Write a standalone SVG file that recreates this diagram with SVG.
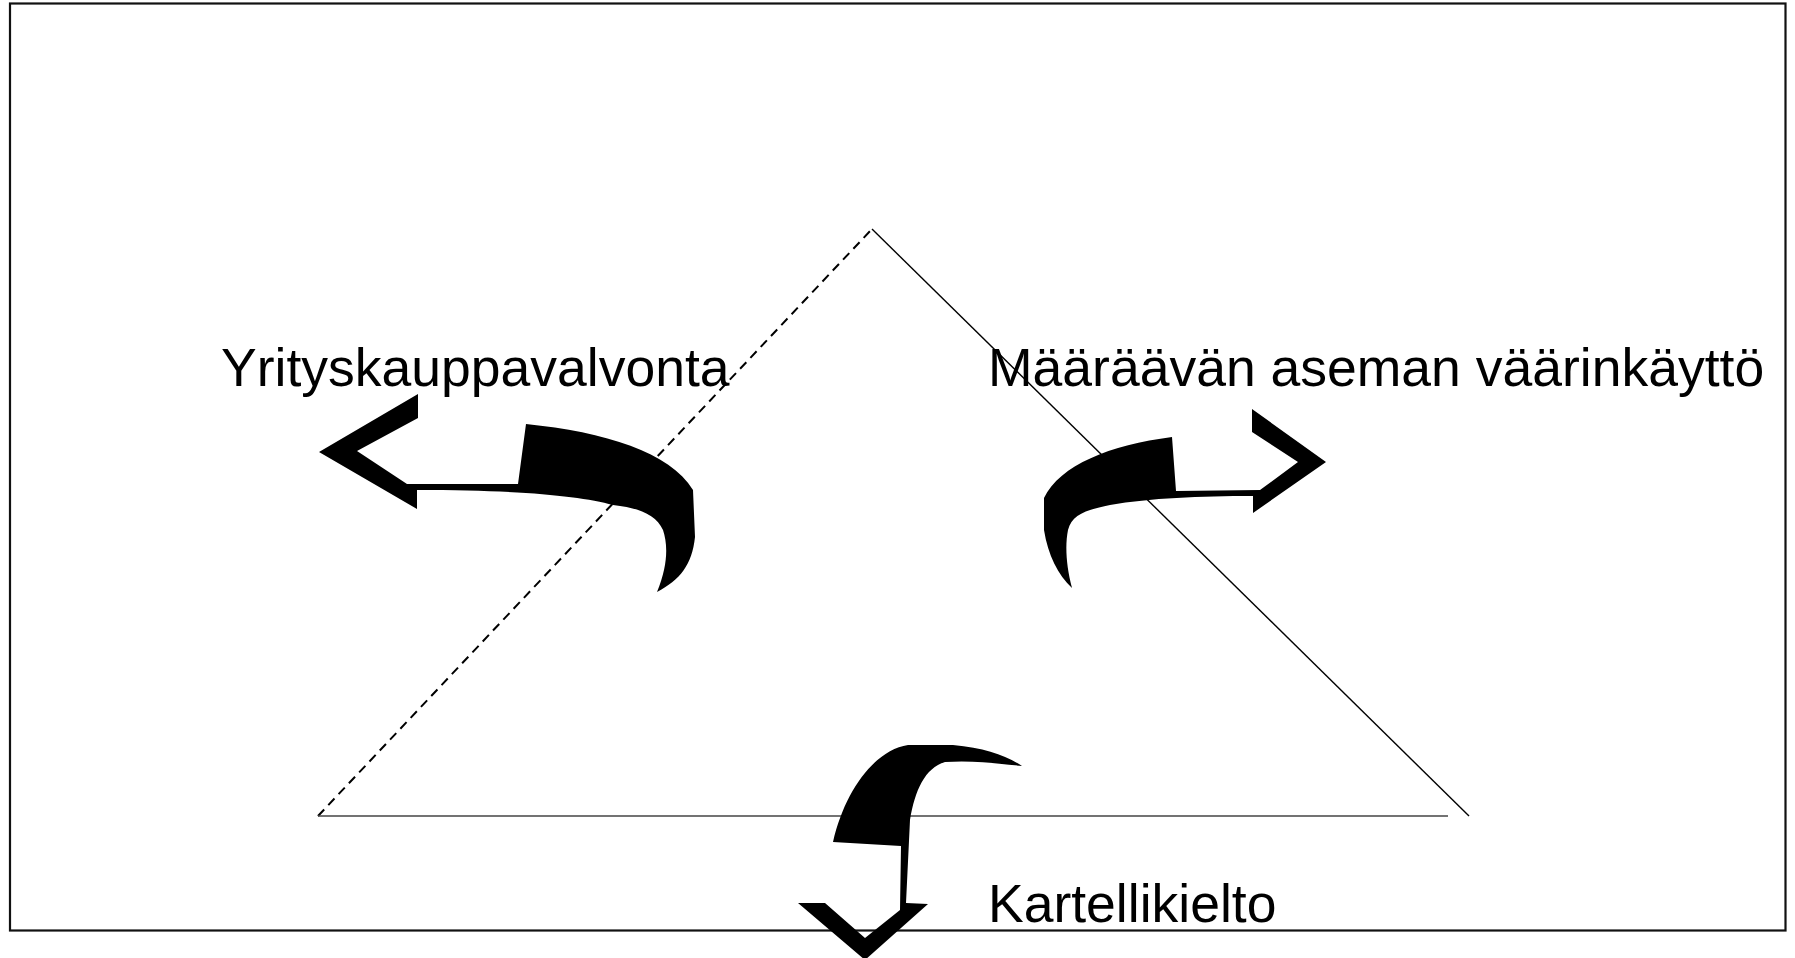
<svg xmlns="http://www.w3.org/2000/svg" width="1795" height="958" viewBox="0 0 1795 958">
<style>
.lbl{font-family:"Liberation Sans",Arial,sans-serif;font-size:53.5px;fill:#000}
.arr{fill:#000;stroke:none}
</style>
<rect x="0" y="0" width="1795" height="958" fill="#fff"/>
<rect x="10" y="3.5" width="1775.5" height="927" fill="none" stroke="#111" stroke-width="2.2"/>
<g id="connectors">
<line x1="318" y1="816" x2="872" y2="229" stroke="#000" stroke-width="2" stroke-dasharray="9,6"/>
<line x1="872" y1="229" x2="1469" y2="816" stroke="#000" stroke-width="1.4"/>
<line x1="318" y1="816" x2="1448" y2="816" stroke="#444" stroke-width="1.7"/>
</g>
<g id="yrityskauppavalvonta">
<text class="lbl" x="221" y="386">Yrityskauppavalvonta</text>
<path class="arr" d="M 319,452 L 418,394 L 418,418 L 357,451 L 407,484 L 518,484 L 526,424 C 605,432 670,452 693,490 L 695,537 C 692,565 680,580 657,592 C 668,565 668,545 663,530 C 656,515 640,508 613,505 C 580,496 520,490 417,490 L 417,509 Z"/>
</g>
<g id="maaraavan">
<text class="lbl" x="988" y="386">Määräävän aseman väärinkäyttö</text>
<path class="arr" d="M 1326,462 L 1252,409 L 1252,432 L 1298,462 L 1260,490 L 1176,491 L 1172,437 C 1110,445 1060,465 1044,498 L 1044,530 C 1048,555 1058,575 1072,588 C 1066,565 1065,545 1068,530 C 1072,515 1085,510 1110,505 C 1150,498 1200,496 1253,496 L 1253,513 Z"/>
</g>
<g id="kartellikielto">
<text class="lbl" x="988" y="922">Kartellikielto</text>
<path class="arr" d="M 798,903 L 825,903 L 865,938 L 900,910 L 901,846 L 833,842 C 845,790 875,750 908,745 L 953,745 C 985,748 1005,755 1022,766 C 1000,764 975,760 945,762 C 925,768 915,790 910,820 L 906,903 L 928,904 L 865,960 Z"/>
</g>
</svg>
